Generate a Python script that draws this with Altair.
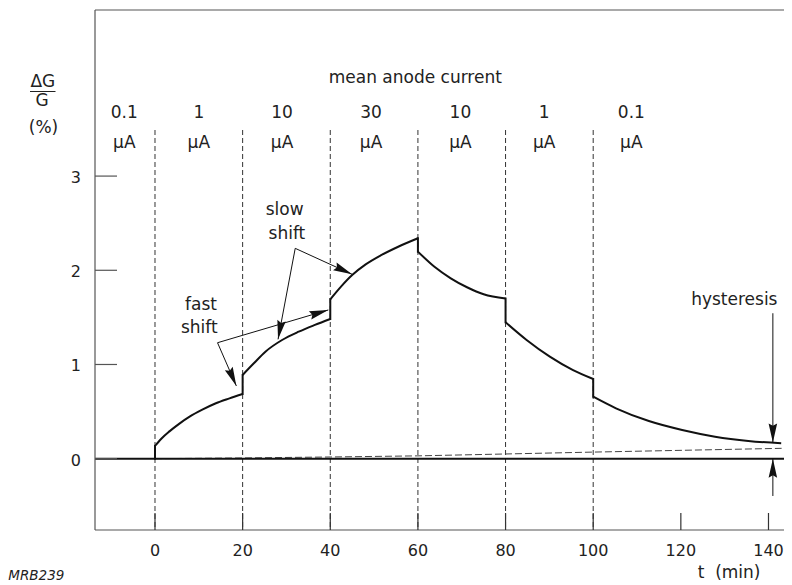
import math
import altair as alt
import pandas as pd

# ---------------- data ----------------
X_TICKS = [0, 20, 40, 60, 80, 100, 120, 140]
Y_TICKS = [0, 1, 2, 3]
BOUNDARIES = [0, 20, 40, 60, 80, 100]
CURRENT_LABELS = ["0.1", "1", "10", "30", "10", "1", "0.1"]
CURRENT_T = [-7, 10, 29, 49.3, 69.7, 88.8, 108.7]

SEG1_T = [0, 1.5, 3.3, 5.5, 7.9, 10.8, 13.9, 17, 20]
SEG1_V = [0.135, 0.215, 0.29, 0.37, 0.446, 0.52, 0.588, 0.64, 0.687]
SEG2_T = [20, 22.5, 25.2, 29, 32.8, 36.5, 40]
SEG2_V = [0.889, 1.01, 1.136, 1.26, 1.348, 1.42, 1.483]
SEG3_T = [40, 42.5, 45, 48, 51.6, 55.5, 60]
SEG3_V = [1.692, 1.83, 1.95, 2.06, 2.16, 2.25, 2.34]
SEG4_T = [60, 63.7, 67.5, 71.2, 75, 80]
SEG4_V = [2.198, 2.04, 1.915, 1.82, 1.745, 1.70]
SEG5_T = [80, 84.8, 90.1, 95.4, 100]
SEG5_V = [1.448, 1.26, 1.083, 0.94, 0.846]
SEG6_T = [100, 105.2, 112.7, 120.3, 127.8, 135.4, 142.9]
SEG6_V = [0.658, 0.535, 0.40, 0.305, 0.234, 0.188, 0.163]

DRIFT_T = [0, 20, 40, 60, 80, 100, 143]
DRIFT_V = [0, 0.008, 0.018, 0.03, 0.05, 0.07, 0.11]

# annotation arrows (tail -> tip), data units
ARROW_T1 = [14.27, 14.27, 32.0, 32.0, 141.0, 141.0]
ARROW_V1 = [1.231, 1.231, 2.233, 2.233, 1.544, -0.396]
ARROW_T2 = [18.57, 39.55, 28.08, 44.98, 141.0, 141.0]
ARROW_V2 = [0.772, 1.579, 1.267, 1.957, 0.172, 0.0]

NOTE_TEXT = ["slow", "shift", "fast", "shift", "hysteresis"]
NOTE_T = [29.6, 30.1, 10.5, 10.1, 132.2]

# ---------------- layout / style ----------------
W, H = 689, 520
X_DOMAIN = [-13.69, 143.54]
Y_DOMAIN = [-0.757, 4.763]
PX_T = W / (X_DOMAIN[1] - X_DOMAIN[0])
PX_V = H / (Y_DOMAIN[1] - Y_DOMAIN[0])
FONT = "DejaVu Sans"
TXT = "#222222"
AX = "#555555"
NOTE_Y = [205, 229.3, 300, 323.3, 295]   # baselines, px from plot top

xs = alt.Scale(domain=X_DOMAIN, nice=False, zero=False)
ys = alt.Scale(domain=Y_DOMAIN, nice=False, zero=False)

segs = [(SEG1_T, SEG1_V), (SEG2_T, SEG2_V), (SEG3_T, SEG3_V),
        (SEG4_T, SEG4_V), (SEG5_T, SEG5_V), (SEG6_T, SEG6_V)]
rows = []
i = 0
for k, (ts, vs) in enumerate(segs):
    for t, v in zip(ts, vs):
        rows.append({"seg": k, "t": t, "v": v, "i": i})
        i += 1
curve_df = pd.DataFrame(rows)

jumps = [{"t": SEG1_T[0], "v": 0.0, "v2": SEG1_V[0]}]
for k in range(1, len(segs)):
    jumps.append({"t": segs[k][0][0], "v": segs[k - 1][1][-1], "v2": segs[k][1][0]})
jump_df = pd.DataFrame(jumps)

drift_df = pd.DataFrame({"t": DRIFT_T, "v": DRIFT_V})

arrow_df = pd.DataFrame({"t": ARROW_T1, "v": ARROW_V1, "t2": ARROW_T2, "v2": ARROW_V2})
arrow_df["ang"] = [
    (math.degrees(math.atan2((b - a) * PX_T, (d - c) * PX_V)) + 360.0) % 360.0
    for a, b, c, d in zip(ARROW_T1, ARROW_T2, ARROW_V1, ARROW_V2)
]
HEAD = "M0,0L0.45,2L0,1.75L-0.45,2Z"

one = pd.DataFrame({"a": [0]})

X = lambda f="t:Q": alt.X(f, scale=xs, axis=None)
Y = lambda f="v:Q": alt.Y(f, scale=ys, axis=None)

# ---------------- layers ----------------
curve = alt.Chart(curve_df).mark_line(
    color="#111111", strokeWidth=2, interpolate="monotone", clip=True).encode(
    x=X(), y=Y(), detail="seg:N", order=alt.Order("i:Q"))

left_axis = alt.Chart(one).mark_rule(color=AX, strokeWidth=1.2).encode(
    x=alt.value(0), y=alt.value(0), y2=alt.value(H))
bottom_axis = alt.Chart(one).mark_rule(color=AX, strokeWidth=1.2).encode(
    x=alt.value(0), x2=alt.value(W), y=alt.value(H))
top_border = alt.Chart(one).mark_rule(color=AX, strokeWidth=1.2).encode(
    x=alt.value(0), x2=alt.value(W), y=alt.value(0))

ytick = alt.Chart(pd.DataFrame({"v": Y_TICKS})).mark_rule(color=AX, strokeWidth=1.2).encode(
    y=Y(), x=alt.value(0), x2=alt.value(22))
ylabels = alt.Chart(pd.DataFrame({"v": Y_TICKS})).mark_text(
    font=FONT, fontSize=16, color=TXT, align="right", baseline="middle", dy=2).encode(
    y=Y(), x=alt.value(-14), text=alt.Text("v:Q", format="d"))

xtick = alt.Chart(pd.DataFrame({"t": X_TICKS})).mark_rule(color="#333333", strokeWidth=1.2).encode(
    x=X(), y=alt.value(H - 17), y2=alt.value(H))
xlabels = alt.Chart(pd.DataFrame({"t": X_TICKS})).mark_text(
    font=FONT, fontSize=16, color=TXT, align="center", baseline="top").encode(
    x=X(), y=alt.value(H + 12.5), text=alt.Text("t:Q", format="d"))

bounds = alt.Chart(pd.DataFrame({"t": BOUNDARIES})).mark_rule(
    color="#333333", strokeWidth=1, strokeDash=[5, 3]).encode(
    x=X(), y=alt.value(120), y2=alt.value(H))

zero = alt.Chart(pd.DataFrame({"v": [0]})).mark_rule(color="#111111", strokeWidth=2).encode(y=Y())

drift = alt.Chart(drift_df).mark_line(color="#444444", strokeWidth=1, strokeDash=[7, 3], clip=True).encode(
    x=X(), y=Y())

jump = alt.Chart(jump_df).mark_rule(color="#111111", strokeWidth=2, strokeCap="square").encode(
    x=X(), y=Y(), y2="v2:Q")

arrow_lines = alt.Chart(arrow_df).mark_rule(color="#111111", strokeWidth=1).encode(
    x=X(), x2="t2:Q", y=Y(), y2="v2:Q")

arrow_heads = alt.Chart(arrow_df).mark_point(
    shape=HEAD, filled=True, size=361, color="#111111", opacity=1, strokeWidth=0).encode(
    x=X("t2:Q"), y=Y("v2:Q"), angle=alt.Angle("ang:Q", scale=None))


def text_at_t(texts, ts, y_px, size=17):
    df = pd.DataFrame({"t": ts, "s": texts})
    return alt.Chart(df).mark_text(
        font=FONT, fontSize=size, color=TXT, align="center", baseline="alphabetic").encode(
        x=X(), y=alt.value(y_px), text="s:N")


def text_px(text, x_px, y_px, size=17, align="center", **kw):
    return alt.Chart(pd.DataFrame({"s": [text]})).mark_text(
        font=FONT, fontSize=size, color=TXT, align=align, baseline="alphabetic", **kw).encode(
        x=alt.value(x_px), y=alt.value(y_px), text="s:N")


texts = [
    text_at_t(["mean anode current"], [59.4], 73.3),
    text_at_t(CURRENT_LABELS, CURRENT_T, 108.3),
    text_at_t(["μA"] * len(CURRENT_T), CURRENT_T, 138.3),
]
for s, t, py in zip(NOTE_TEXT, NOTE_T, NOTE_Y):
    texts.append(text_at_t([s], [t], py))
texts.append(text_at_t(["t\u00a0\u00a0(min)"], [131.0], 568))
texts.append(text_px("MRB239", -86.7, 570, size=13.5, align="left", fontStyle="italic"))
texts.append(text_px("ΔG", -52.2, 77))
texts.append(text_px("G", -53, 96))
texts.append(text_px("(%)", -51.5, 123))

frac_bar = alt.Chart(one).mark_rule(color=TXT, strokeWidth=1).encode(
    x=alt.value(-65), x2=alt.value(-39.5), y=alt.value(81.5))

chart = alt.layer(
    curve, bounds, drift, zero, jump, left_axis, bottom_axis, top_border,
    ytick, ylabels, xtick, xlabels,
    arrow_lines, arrow_heads, *texts, frac_bar,
).properties(
    width=W, height=H,
    padding={"left": 87, "top": 2, "right": 0, "bottom": 52},
    autosize=alt.AutoSizeParams(type="none"),
    background="white",
).configure_view(stroke=None)

chart.save("out.html", embed_options={"renderer": "svg", "actions": False})
